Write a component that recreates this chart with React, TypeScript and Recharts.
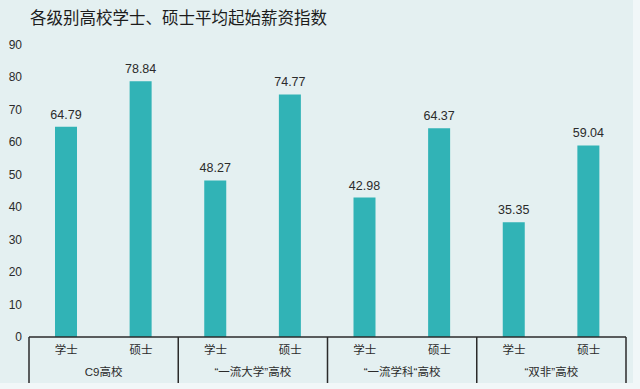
import React from 'react';
import { BarChart, Bar, XAxis, YAxis, LabelList } from 'recharts';

// degree labels, one per bar
const degrees = ['学士', '硕士', '学士', '硕士', '学士', '硕士', '学士', '硕士'];
// school tier, one per bar (pairs)
const groups = ['C9高校', 'C9高校', '“一流大学”高校', '“一流大学”高校', '“一流学科“高校', '“一流学科“高校', '“双非”高校', '“双非”高校'];
const values = [64.79, 78.84, 48.27, 74.77, 42.98, 64.37, 35.35, 59.04];
const yTicks = [0, 10, 20, 30, 40, 50, 60, 70, 80, 90];

const W = 640;
const H = 389;
const MARGIN = { top: 45, right: 14, bottom: 6, left: 0 };
const Y_W = 29;
const BAND = (W - MARGIN.left - MARGIN.right - Y_W) / degrees.length;

const FONT = 'Helvetica, Arial, "Noto Sans CJK SC", sans-serif';
const TEAL = '#31b3b6';
const INK = '#2b2b2b';

const chartData = degrees.map((d, i) => ({ deg: d, group: groups[i], value: values[i] }));

function YTick(props: any) {
    const { y, payload } = props;
    return (
        <text x={22} y={y} dy={4} textAnchor="end" fontSize={12} fill={INK} fontFamily={FONT}>
            {payload.value}
        </text>
    );
}

function XTick(props: any) {
    const { x, y, payload, index } = props;
    const left = x - BAND / 2;
    return (
        <g>
            <text x={x} y={y + 17} textAnchor="middle" fontSize={11.5} fill={INK} fontFamily={FONT}>
                {payload.value}
            </text>
            {index % 2 === 0 && (
                <>
                    <line x1={left} y1={y} x2={left} y2={y + 46} stroke={INK} strokeWidth={1.5} />
                    <text x={x + BAND / 2} y={y + 39} textAnchor="middle" fontSize={11.5} fill={INK} fontFamily={FONT}>
                        {groups[index]}
                    </text>
                </>
            )}
            {index === degrees.length - 1 && (
                <line x1={x + BAND / 2} y1={y} x2={x + BAND / 2} y2={y + 46} stroke={INK} strokeWidth={1.5} />
            )}
        </g>
    );
}

export default function App() {
    return (
        <div style={{ position: 'absolute', left: 0, top: 0, width: W, height: H, background: '#f1f7f8' }}>
            <div style={{ position: 'absolute', left: 0, top: 0, width: 633, height: 383, background: '#e4f0f1' }} />
            <div
                style={{
                    position: 'absolute',
                    left: 30,
                    top: 8,
                    fontSize: 16.5,
                    lineHeight: '20px',
                    color: '#1c1c1c',
                    fontFamily: FONT,
                    fontWeight: 400,
                }}
            >
                各级别高校学士、硕士平均起始薪资指数
            </div>
            <div style={{ position: 'absolute', left: 0, top: 0 }}>
                <BarChart width={W} height={H} data={chartData} margin={MARGIN}>
                    <XAxis
                        dataKey="deg"
                        interval={0}
                        height={46}
                        tickSize={0}
                        tickMargin={0}
                        tickLine={false}
                        axisLine={{ stroke: INK, strokeWidth: 1.5 }}
                        tick={<XTick />}
                    />
                    <YAxis
                        width={Y_W}
                        domain={[0, 90]}
                        ticks={yTicks}
                        interval={0}
                        axisLine={false}
                        tickLine={false}
                        tick={<YTick />}
                    />
                    <Bar dataKey="value" fill={TEAL} barSize={22} isAnimationActive={false}>
                        <LabelList dataKey="value" position="top" offset={8} fontSize={12.5} fill={INK} fontFamily={FONT} />
                    </Bar>
                </BarChart>
            </div>
        </div>
    );
}
